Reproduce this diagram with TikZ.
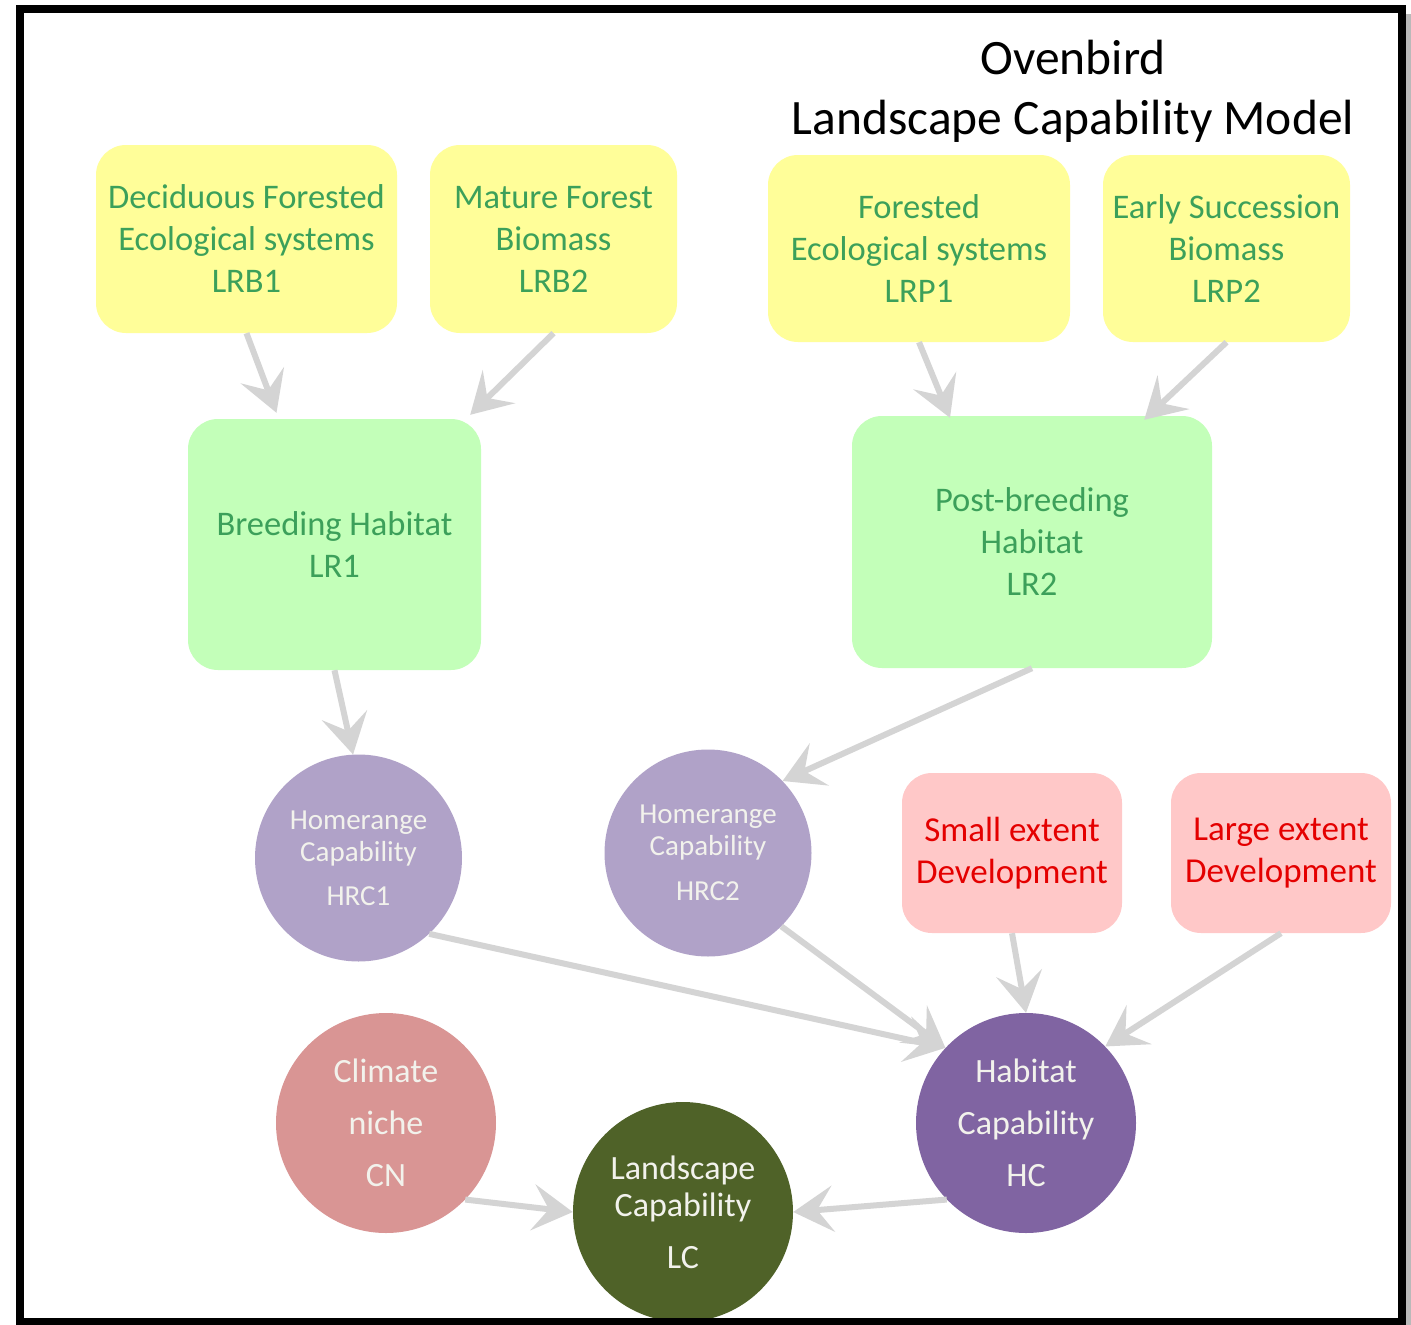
\documentclass[tikz,border=0pt]{standalone}
\usepackage{fontspec}
\setmainfont{Carlito}
\usetikzlibrary{arrows.meta,calc}
\definecolor{yfill}{RGB}{255,254,153}
\definecolor{gfill}{RGB}{195,255,185}
\definecolor{gtext}{RGB}{60,160,90}
\definecolor{lpurple}{RGB}{176,162,200}
\definecolor{dpurple}{RGB}{128,100,162}
\definecolor{cnpink}{RGB}{217,149,148}
\definecolor{lcgreen}{RGB}{79,98,40}
\definecolor{pfill}{RGB}{255,200,200}
\definecolor{rtext}{RGB}{228,0,0}
\definecolor{ctext}{RGB}{242,242,236}
\definecolor{arrowgray}{RGB}{212,212,212}
\tikzset{
  ybox/.style={rounded corners=30pt, fill=yfill, draw=none, align=center, text=gtext,
    font=\fontsize{34.5}{42}\selectfont, inner sep=0pt},
  gbox/.style={rounded corners=30pt, fill=gfill, draw=none, align=center, text=gtext,
    font=\fontsize{34.5}{42}\selectfont, inner sep=0pt},
  pbox/.style={rounded corners=30pt, fill=pfill, draw=none, align=center, text=rtext,
    font=\fontsize{35}{42}\selectfont, inner sep=0pt, minimum width=220pt, minimum height=160pt},
  bigcirc/.style={circle, draw=none, align=center, text=ctext, inner sep=0pt,
    minimum size=220pt, font=\fontsize{34}{42}\selectfont},
  smallcirc/.style={circle, draw=none, fill=lpurple, align=center, text=ctext, inner sep=0pt,
    minimum size=207pt, font=\fontsize{29}{32}\selectfont},
  conn/.style={draw=arrowgray, line width=6pt,
    -{Stealth[length=40pt, width=46pt, inset=16pt]}},
}
\begin{document}
\begin{tikzpicture}[x=1pt, y=-1pt]
\useasboundingbox (0,0) rectangle (1411,1325);
\fill[white] (0,0) rectangle (1411,1325);

% title
\node[align=center, font=\fontsize{49.5}{60}\selectfont] (title) at (1073,91)
  {Ovenbird\\Landscape Capability Model};

% top boxes
\node[ybox, minimum width=301pt, minimum height=188pt] (lrb1) at (246.5,239)
  {Deciduous Forested\\Ecological systems\\LRB1};
\node[ybox, minimum width=247pt, minimum height=188pt] (lrb2) at (553.5,239)
  {Mature Forest\\Biomass\\LRB2};
\node[ybox, minimum width=302pt, minimum height=187pt] (lrp1) at (919,248.5)
  {Forested\\Ecological systems\\LRP1};
\node[ybox, minimum width=247pt, minimum height=187pt] (lrp2) at (1226.5,248.5)
  {Early Succession\\Biomass\\LRP2};

% habitat boxes
\node[gbox, minimum width=293pt, minimum height=251pt] (lr1) at (334.5,544.5)
  {Breeding Habitat\\LR1};
\node[gbox, minimum width=360pt, minimum height=252pt] (lr2) at (1032,542)
  {Post-breeding\\Habitat\\LR2};

% homerange circles
\node[smallcirc] (hrc1) at (358.5,858) {Homerange\\Capability\\[12pt]HRC1};
\node[smallcirc] (hrc2) at (708,853) {Homerange\\Capability\\[13pt]HRC2};

% development boxes
\node[pbox] (small) at (1012,853) {Small extent\\Development};
\node[pbox] (large) at (1281,853) {Large extent\\Development};

% lower circles
\node[bigcirc, fill=dpurple] (hc) at (1026,1123)
  {Habitat\\[10pt]Capability\\[10pt]HC};
\node[bigcirc, fill=cnpink] (cn) at (386,1123)
  {Climate\\[10pt]niche\\[10pt]CN};
\node[bigcirc, fill=lcgreen] (lc) at (683,1212)
  {Landscape\\[-5pt]Capability\\[10pt]LC};

% connectors
\draw[conn] (lrb1.south) -- ([xshift=-58pt, yshift=6pt]lr1.north);
\draw[conn] (lrb2.south) -- ([xshift=-11pt, yshift=4pt]lr1.north east);
\draw[conn] (lrp1.south) -- ([xshift=-82pt, yshift=-2pt]lr2.north);
\draw[conn] (lrp2.south) -- ([xshift=-68pt, yshift=-4pt]lr2.north east);
\draw[conn] (lr1.south) -- (hrc1.93);
\draw[conn] (lr2.south) -- (hrc2.44);
\draw[conn] (hrc1.-47) -- (hc.137);
\draw[conn] (hrc2.-45) -- (hc.137);
\draw[conn] (small.south) -- (hc.90);
\draw[conn] (large.south) -- (hc.44);
\draw[conn] (cn.-44) -- (lc.180);
\draw[conn] (hc.224) -- (lc.0);

% frame
\fill[gray!55] (1405,14) rectangle (1411,1325);
\draw[line width=8pt] (20,9) rectangle (1402,1322);
\end{tikzpicture}
\end{document}
